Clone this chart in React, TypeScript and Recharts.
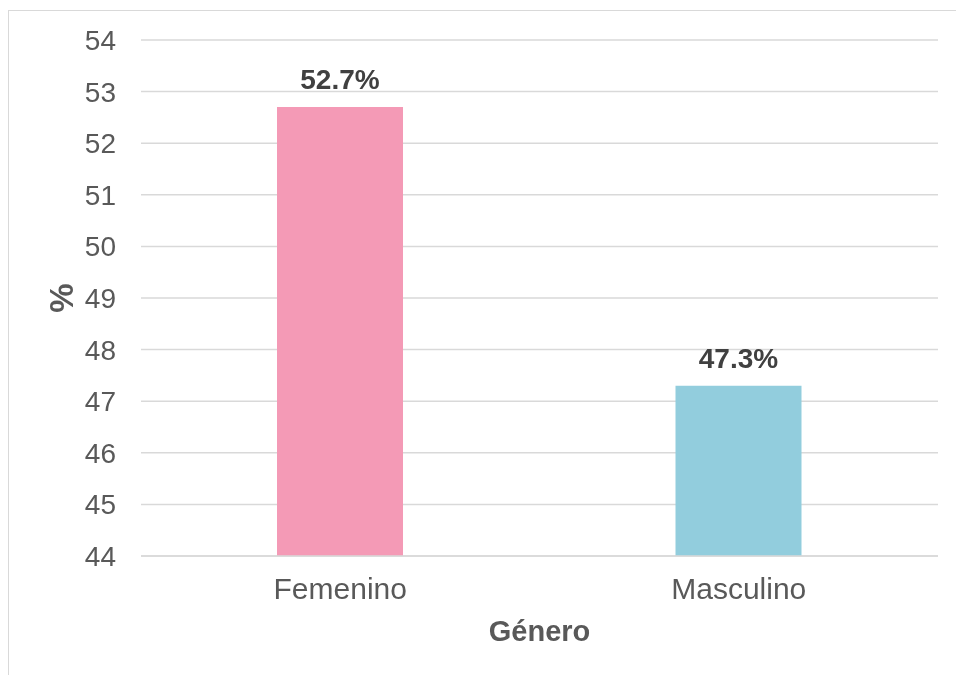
import React from 'react';
import { BarChart, Bar, XAxis, YAxis, CartesianGrid, Cell, LabelList, Label } from 'recharts';

const categories = ['Femenino', 'Masculino'];
const values = [52.7, 47.3];
const colors = ['#F49AB6', '#92CDDD'];
const yTicks = [44, 45, 46, 47, 48, 49, 50, 51, 52, 53, 54];

const data = categories.map((c, i) => ({ name: c, value: values[i] }));

const FONT = '"Liberation Sans", Arial, sans-serif';

const YTitle = (props: any) => {
  const vb = props.viewBox || { x: 0, y: 0, width: 0, height: 0 };
  const cx = vb.x + 64;
  const cy = vb.y + vb.height / 2;
  return (
    <text
      x={cx}
      y={cy}
      transform={`rotate(-90 ${cx} ${cy})`}
      textAnchor="middle"
      fontFamily={FONT}
      fontSize={33}
      fontWeight="bold"
      fill="#595959"
    >
      %
    </text>
  );
};

export default function App() {
  return (
    <div
      style={{
        position: 'fixed',
        left: 8,
        top: 10,
        width: 948,
        height: 665,
        boxSizing: 'border-box',
        overflow: 'hidden',
        borderTop: '1px solid #D9D9D9',
        borderLeft: '1px solid #D9D9D9',
      }}
    >
      <BarChart
        width={947}
        height={664}
        data={data}
        margin={{ top: 29, right: 18, left: 0, bottom: 0 }}
        style={{ fontFamily: FONT }}
      >
        <CartesianGrid vertical={false} stroke="#D9D9D9" strokeWidth={1.5} />
        <XAxis
          dataKey="name"
          height={119}
          tickLine={false}
          tickSize={0}
          tickMargin={22}
          axisLine={{ stroke: '#D9D9D9', strokeWidth: 1.5 }}
          tick={{ fontSize: 30, fill: '#595959', fontFamily: FONT }}
        >
          <Label
            value="Género"
            position="insideBottom"
            offset={34}
            style={{ fontSize: 29, fontWeight: 'bold', fill: '#595959', fontFamily: FONT }}
          />
        </XAxis>
        <YAxis
          width={132}
          domain={[44, 54]}
          ticks={yTicks}
          interval={0}
          allowDataOverflow
          tickLine={false}
          axisLine={false}
          tickSize={0}
          tickMargin={25}
          tick={{ fontSize: 28, fill: '#595959', fontFamily: FONT }}
          label={<YTitle />}
        />
        <Bar dataKey="value" barSize={126} isAnimationActive={false}>
          {data.map((d, i) => (
            <Cell key={d.name} fill={colors[i]} />
          ))}
          <LabelList
            dataKey="value"
            position="top"
            offset={18}
            formatter={(v: any) => `${Number(v).toFixed(1)}%`}
            style={{ fontSize: 28, fontWeight: 'bold', fill: '#404040', fontFamily: FONT }}
          />
        </Bar>
      </BarChart>
    </div>
  );
}
